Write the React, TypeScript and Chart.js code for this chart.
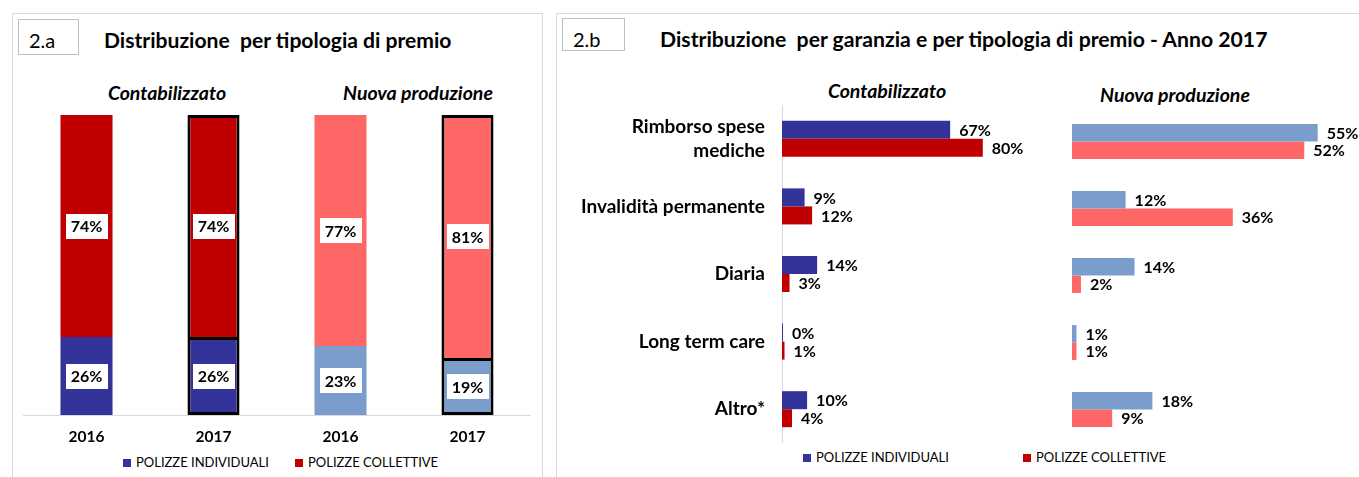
import React, { useEffect, useRef } from "react";
import { Chart, registerables } from "chart.js";

Chart.register(...registerables);

// ---------- data ----------
const YEARS = ["2016", "2017", "2016", "2017"];
const INDIVIDUALI_2A = [26, 26, 23, 19];
const COLLETTIVE_2A = [74, 74, 77, 81];
const HIGHLIGHT_2A = [false, true, false, true];

const GARANZIE: (string | string[])[] = [
  ["Rimborso spese", "mediche"],
  "Invalidità permanente",
  "Diaria",
  "Long term care",
  "Altro*",
];
const CONT_INDIVIDUALI = [67, 9, 14, 0.4, 10];
const CONT_COLLETTIVE = [80, 12, 3, 1, 4];
const NUOVA_INDIVIDUALI = [55, 12, 14, 1, 18];
const NUOVA_COLLETTIVE = [52, 36, 2, 1, 9];

const LEGEND_LABELS = ["POLIZZE INDIVIDUALI", "POLIZZE COLLETTIVE"];
const SECTION_LABELS = ["Contabilizzato", "Nuova produzione"];
const TITLE_A = "Distribuzione  per tipologia di premio";
const TITLE_B = "Distribuzione  per garanzia e per tipologia di premio - Anno 2017";

// ---------- styles ----------
const FONT = "Lato, 'Open Sans', sans-serif";
const DARK_BLUE = "#333399";
const DARK_RED = "#C00000";
const LIGHT_BLUE = "#7A9DCC";
const SALMON = "#FF6666";
const PANEL_BORDER = "#D9D9D9";

const valueLabels = {
  id: "valueLabels",
  afterDatasetsDraw(chart: any, _args: any, opts: any) {
    const ctx = chart.ctx as CanvasRenderingContext2D;
    ctx.save();
    ctx.font = `bold ${opts.size}px ${FONT}`;
    ctx.textBaseline = "middle";
    chart.data.datasets.forEach((ds: any, di: number) => {
      const meta = chart.getDatasetMeta(di);
      meta.data.forEach((el: any, i: number) => {
        const txt = Math.round(ds.data[i]) + "%";
        if (opts.mode === "box") {
          const p = el.getCenterPoint();
          const w = ctx.measureText(txt).width + 10;
          const h = 25;
          ctx.fillStyle = "#FFFFFF";
          ctx.fillRect(Math.round(p.x - w / 2), Math.round(p.y - h / 2), Math.round(w), h);
          ctx.fillStyle = "#000000";
          ctx.textAlign = "center";
          ctx.fillText(txt, p.x, p.y + 1);
        } else {
          const p = el.getProps(["x", "y"], true);
          ctx.fillStyle = "#000000";
          ctx.textAlign = "left";
          ctx.fillText(txt, p.x + 9, p.y + 1);
        }
      });
    });
    ctx.restore();
  },
};

function ChartBox({ box, make }: { box: React.CSSProperties; make: () => any }) {
  const ref = useRef<HTMLCanvasElement>(null);
  useEffect(() => {
    const chart = new Chart(ref.current as HTMLCanvasElement, make());
    return () => chart.destroy();
  }, []);
  return (
    <div style={{ position: "absolute", ...box }}>
      <canvas ref={ref} />
    </div>
  );
}

function Txt({
  x, y, text, size, bold = false, italic = false, align = "left",
}: {
  x: number; y: number; text: string; size: number; bold?: boolean; italic?: boolean; align?: "left" | "center";
}) {
  const w = 700;
  return (
    <div
      style={{
        position: "absolute",
        left: align === "center" ? x - w / 2 : x,
        top: y - size * 0.6,
        width: align === "center" ? w : undefined,
        textAlign: align,
        fontFamily: FONT,
        fontSize: size,
        lineHeight: `${size * 1.2}px`,
        fontWeight: bold ? 700 : 400,
        fontStyle: italic ? "italic" : "normal",
        whiteSpace: "pre",
        color: "#000",
      }}
    >
      {text}
    </div>
  );
}

function Legend({ x1, x2, y, colors }: { x1: number; x2: number; y: number; colors: string[] }) {
  const xs = [x1, x2];
  return (
    <>
      {LEGEND_LABELS.map((l, i) => (
        <React.Fragment key={l}>
          <div
            style={{
              position: "absolute",
              left: xs[i],
              top: y - 4,
              width: 8,
              height: 8,
              background: colors[i],
            }}
          />
          <Txt x={xs[i] + 13} y={y} text={l} size={13} />
        </React.Fragment>
      ))}
    </>
  );
}

const baseOpts = {
  animation: false,
  responsive: true,
  maintainAspectRatio: false,
  events: [],
};

function makeStacked() {
  return {
    type: "bar",
    data: {
      labels: YEARS,
      datasets: [
        {
          label: LEGEND_LABELS[0],
          data: INDIVIDUALI_2A,
          backgroundColor: [DARK_BLUE, DARK_BLUE, LIGHT_BLUE, LIGHT_BLUE],
          borderColor: "#000",
          borderWidth: (c: any) => (HIGHLIGHT_2A[c.dataIndex] ? 3 : 0),
          borderSkipped: false,
          categoryPercentage: 1,
          barPercentage: 0.41,
        },
        {
          label: LEGEND_LABELS[1],
          data: COLLETTIVE_2A,
          backgroundColor: [DARK_RED, DARK_RED, SALMON, SALMON],
          borderColor: "#000",
          borderWidth: (c: any) =>
            HIGHLIGHT_2A[c.dataIndex] ? { top: 3, left: 3, right: 3, bottom: 0 } : 0,
          borderSkipped: false,
          categoryPercentage: 1,
          barPercentage: 0.41,
        },
      ],
    },
    options: {
      ...baseOpts,
      layout: { padding: 0 },
      plugins: {
        legend: { display: false },
        tooltip: { enabled: false },
        valueLabels: { mode: "box", size: 16 },
      },
      scales: {
        x: {
          stacked: true,
          grid: { display: false, drawTicks: false },
          border: { display: true, color: PANEL_BORDER, width: 1 },
          ticks: { color: "#000", font: { family: FONT, size: 15.5, weight: "bold" }, padding: 13 },
          afterFit: (s: any) => {
            s.height = 35;
          },
        },
        y: { stacked: true, display: false, min: 0, max: 100 },
      },
    },
    plugins: [valueLabels],
  };
}

function makeHBar(ind: number[], col: number[], colors: string[], withAxis: boolean, max: number, catPct: number) {
  return {
    type: "bar",
    data: {
      labels: GARANZIE,
      datasets: [
        { label: LEGEND_LABELS[0], data: ind, backgroundColor: colors[0], categoryPercentage: catPct, barPercentage: 1 },
        { label: LEGEND_LABELS[1], data: col, backgroundColor: colors[1], categoryPercentage: catPct, barPercentage: 1 },
      ],
    },
    options: {
      ...baseOpts,
      indexAxis: "y",
      layout: { padding: { right: withAxis ? 0 : 19 } },
      plugins: {
        legend: { display: false },
        tooltip: { enabled: false },
        valueLabels: { mode: "end", size: 16 },
      },
      scales: {
        x: { display: false, min: 0, max },
        y: withAxis
          ? {
              grid: { display: false, drawTicks: false },
              border: { display: true, color: PANEL_BORDER, width: 1 },
              ticks: {
                color: "#000",
                font: { family: FONT, size: 19, weight: "bold", lineHeight: 1.25 },
                padding: 17,
              },
              afterFit: (s: any) => {
                s.width = 222;
                s.paddingTop = 0;
                s.paddingBottom = 0;
              },
            }
          : { display: false },
      },
    },
    plugins: [valueLabels],
  };
}

export default function App() {
  return (
    <div
      style={{
        position: "absolute",
        left: 0,
        top: 0,
        width: 1359,
        height: 477,
        overflow: "hidden",
        background: "#fff",
      }}
    >
      {/* panel 2.a */}
      <div
        style={{
          position: "absolute",
          left: 12,
          top: 13,
          width: 531,
          height: 480,
          border: `1px solid ${PANEL_BORDER}`,
          boxSizing: "border-box",
        }}
      />
      <div
        style={{
          position: "absolute",
          left: 18,
          top: 19,
          width: 61,
          height: 36,
          border: "1px solid #BFBFBF",
          boxSizing: "border-box",
        }}
      />
      <Txt x={29} y={40} text="2.a" size={20} />
      <Txt x={104} y={40} text={TITLE_A} size={21.1} bold />
      <Txt x={167} y={93} text={SECTION_LABELS[0]} size={19.5} bold italic align="center" />
      <Txt x={418} y={93} text={SECTION_LABELS[1]} size={19.5} bold italic align="center" />
      <ChartBox box={{ left: 23, top: 115, width: 508, height: 335 }} make={makeStacked} />
      <Legend x1={123} x2={295} y={463} colors={[DARK_BLUE, DARK_RED]} />

      {/* panel 2.b */}
      <div
        style={{
          position: "absolute",
          left: 556,
          top: 13,
          width: 830,
          height: 480,
          border: `1px solid ${PANEL_BORDER}`,
          boxSizing: "border-box",
        }}
      />
      <div
        style={{
          position: "absolute",
          left: 562,
          top: 18,
          width: 63,
          height: 33,
          border: "1px solid #BFBFBF",
          boxSizing: "border-box",
        }}
      />
      <Txt x={573} y={39} text="2.b" size={20} />
      <Txt x={660} y={40} text={TITLE_B} size={21.2} bold />
      <Txt x={887} y={91} text={SECTION_LABELS[0]} size={19.5} bold italic align="center" />
      <Txt x={1175} y={95} text={SECTION_LABELS[1]} size={19.5} bold italic align="center" />
      <ChartBox
        box={{ left: 560, top: 105, width: 473, height: 338 }}
        make={() => makeHBar(CONT_INDIVIDUALI, CONT_COLLETTIVE, [DARK_BLUE, DARK_RED], true, 100, 0.533)}
      />
      <ChartBox
        box={{ left: 1072, top: 108, width: 287, height: 335 }}
        make={() => makeHBar(NUOVA_INDIVIDUALI, NUOVA_COLLETTIVE, [LIGHT_BLUE, SALMON], false, 60, 0.52)}
      />
      <Legend x1={803} x2={1023} y={458} colors={[DARK_BLUE, DARK_RED]} />
    </div>
  );
}
